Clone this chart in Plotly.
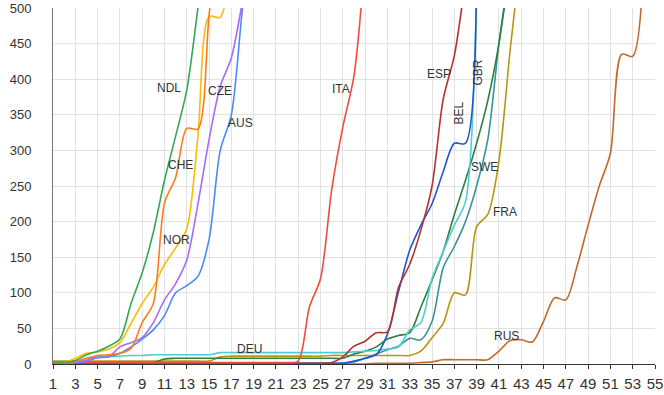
import plotly.graph_objects as go

days = list(range(1, 56))

NDL = [1, 2, 5, 13, 18, 25, 35, 85, 128, 185, 258, 320, 385, 500, 620]
CHE = [0, 1, 4, 8, 12, 13, 15, 22, 58, 85, 226, 262, 331, 330, 490, 620]
NOR = [1, 2, 8, 15, 17, 21, 30, 57, 85, 108, 140, 163, 190, 320, 488, 487, 580]
CZE = [0, 1, 2, 5, 9, 10, 24, 30, 37, 58, 90, 113, 146, 225, 315, 390, 430, 510, 600]
AUS = [0, 1, 2, 4, 9, 10, 15, 24, 35, 48, 68, 100, 110, 123, 175, 300, 350, 500, 620]
ITA = [1, 1] + [2] * 20 + [4, 80, 120, 245, 333, 405, 570]
ESP = [1] * 25 + [2, 10, 25, 32, 44, 45, 108, 140, 188, 250, 372, 433, 540]
BEL = [1] * 27 + [4, 8, 13, 42, 102, 160, 195, 225, 270, 310, 310, 560]
GBR = ([1, 2, 3, 7, 10, 11, 11, 12, 12, 13, 13, 13, 13, 13, 13] + [16] * 12
       + [17, 18, 19, 21, 24, 48, 58, 120, 158, 195, 228, 530])
SWE = [1] * 27 + [3, 8, 14, 20, 25, 36, 34, 60, 135, 165, 200, 250, 315, 450, 560]
DEU = [2] * 10 + [7] + [8] * 16 + [14, 18, 24, 35, 40, 44, 80, 118, 158, 210, 258, 310, 370, 450, 560]
FRA = [4] * 15 + [10] + [11] * 9 + [12] * 8 + [18, 37, 57, 100, 97, 193, 210, 285, 440, 580]
RUS = ([0] * 29 + [1, 1, 1, 1, 2, 3, 6, 6, 6, 6, 6, 18, 33, 34, 31, 60, 93, 90,
       137, 195, 250, 296, 435, 432, 570])

series = [
    ("RUS", RUS, "#c4692c"),
    ("FRA", FRA, "#b8960f"),
    ("SWE", SWE, "#3a939a"),
    ("DEU", DEU, "#2f7f41"),
    ("GBR", GBR, "#4bcfd6"),
    ("BEL", BEL, "#2255cc"),
    ("ESP", ESP, "#b5322d"),
    ("ITA", ITA, "#ee4b43"),
    ("AUS", AUS, "#4a8af4"),
    ("CZE", CZE, "#a66bf7"),
    ("NOR", NOR, "#fbbc04"),
    ("CHE", CHE, "#ff7a1a"),
    ("NDL", NDL, "#34a853"),
]

labels = ["NDL", "CZE", "AUS", "CHE", "NOR", "ITA", "ESP", "BEL", "GBR", "SWE", "FRA", "RUS", "DEU"]
label_x = [11.4, 16.0, 17.8, 12.4, 12.1, 26.8, 35.6, 37.4, 39.1, 39.7, 41.5, 41.7, 18.6]
label_y = [387, 383, 339, 279, 174, 386, 408, 353, 409, 277, 213, 40, 21.5]
label_angle = [0, 0, 0, 0, 0, 0, 0, -90, -90, 0, 0, 0, 0]

fig = go.Figure()
for name, vals, color in series:
    fig.add_trace(go.Scatter(
        x=days[:len(vals)], y=vals, name=name, mode="lines",
        line=dict(color=color, width=1.6, shape="spline", smoothing=0.8),
        cliponaxis=True,
    ))

for t, lx, ly, ang in zip(labels, label_x, label_y, label_angle):
    fig.add_annotation(x=lx, y=ly, text=t, showarrow=False, textangle=ang,
                       font=dict(family="Liberation Sans, Arial", size=12, color="#333"))

fig.update_layout(
    width=664, height=395,
    margin=dict(l=53, r=9, t=8, b=31, autoexpand=False),
    paper_bgcolor="white", plot_bgcolor="white",
    showlegend=False,
    font=dict(family="Liberation Sans, Arial", color="#333"),
)
fig.update_xaxes(
    range=[1, 55], tickmode="linear", tick0=1, dtick=2, automargin=False,
    showgrid=True, gridcolor="#e2e2e2", gridwidth=1,
    showline=True, linecolor="#333", linewidth=1,
    ticks="outside", ticklen=4, tickcolor="#333", ticklabelstandoff=2,
    tickfont=dict(size=15, color="#333"), zeroline=False,
)
fig.update_yaxes(
    range=[0, 500], tickmode="linear", tick0=0, dtick=50, automargin=False,
    showgrid=True, gridcolor="#e2e2e2", gridwidth=1,
    showline=True, linecolor="#777", linewidth=1,
    ticks="", ticklabelstandoff=18,
    tickfont=dict(size=13, color="#333"), zeroline=False,
)

fig.write_html("out.html")
